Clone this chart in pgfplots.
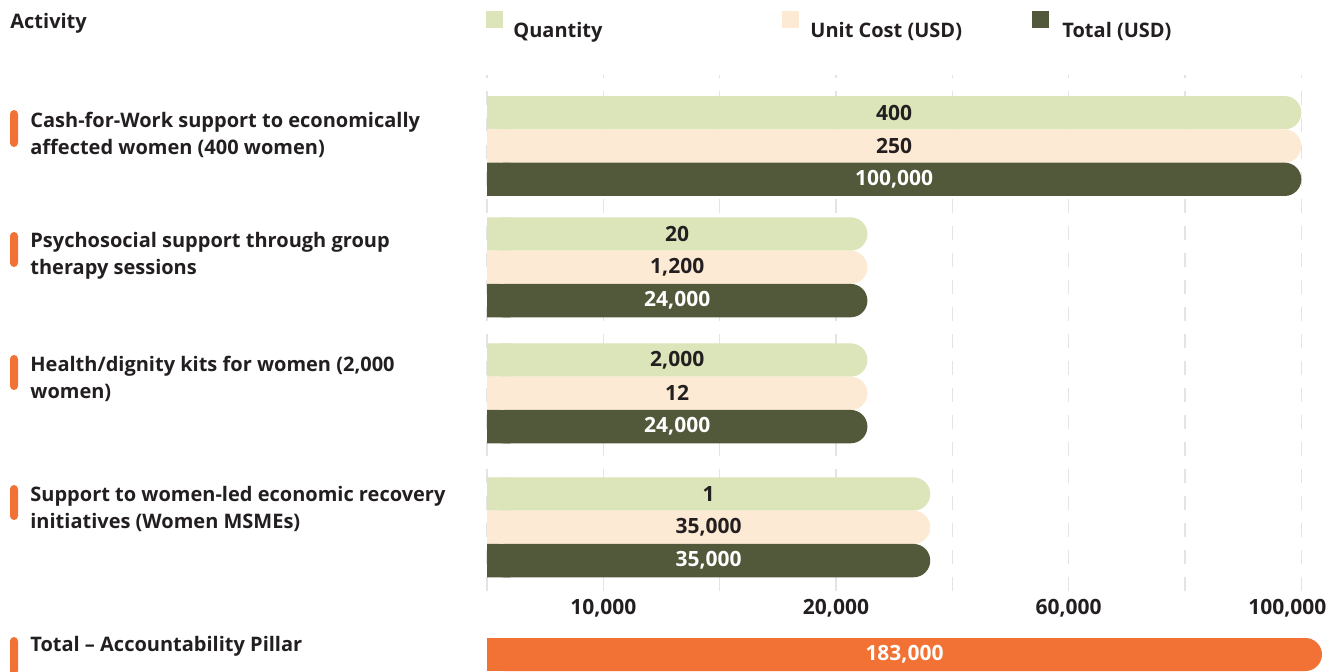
\documentclass[border=0pt]{standalone}
\usepackage{pgfplots}
\pgfplotsset{compat=1.18}
\usepackage{pgfplotstable}
\usepackage{fontspec}
\setmainfont{Open Sans}
\definecolor{qty}{HTML}{DCE4BA}
\definecolor{unit}{HTML}{FDEAD4}
\definecolor{tot}{HTML}{52583A}
\definecolor{orng}{HTML}{F17234}
\definecolor{txt}{HTML}{231F20}
\definecolor{gridc}{HTML}{E4E4E4}
\newcommand\lbl{\fontsize{10}{13.5}\selectfont\bfseries}
\newcommand\vlbl{\fontsize{10.5}{13.5}\selectfont\bfseries}

% piecewise scale (grid steps): 0 | 10,000 | 15,000 | 20,000 | 40,000 | 60,000 | 80,000 | 100,000
\pgfmathdeclarefunction{tr}{1}{%
  \pgfmathparse{ifthenelse(#1<10000, #1/10000,
    ifthenelse(#1<20000, 1+(#1-10000)/5000,
    ifthenelse(#1<24000, 3+(#1-20000)*0.27/4000,
    ifthenelse(#1<35000, 3.27+(#1-24000)*0.54/11000,
    ifthenelse(#1<40000, 3.81+(#1-35000)*0.19/5000,
    4+(#1-40000)/20000)))))}}
\pgfmathdeclarefunction{itr}{1}{%
  \pgfmathparse{ifthenelse(#1<1, #1*10000,
    ifthenelse(#1<3, 10000+(#1-1)*5000,
    ifthenelse(#1<3.27, 20000+(#1-3)*4000/0.27,
    ifthenelse(#1<3.81, 24000+(#1-3.27)*11000/0.54,
    ifthenelse(#1<4, 35000+(#1-3.81)*5000/0.19,
    40000+(#1-4)*20000)))))}}

\pgfplotstableread{
y     len    qty    unit    tot
146   100000 400    250     100,000
267.3 24000  20     1,200   24,000
393.3 24000  2,000  12      24,000
527.3 35000  1      35,000  35,000
}\groups

\pgfplotstableread{
y  len    lab
0  183000 183,000
}\total

\begin{document}
\begin{tikzpicture}
\begin{scope}[x=0.5pt,y=-0.5pt]
\useasboundingbox (0,0) rectangle (1333,671);
\node[anchor=base west, inner sep=0, text=txt, font=\lbl] at (10,28) {Activity};
% legend
\fill[qty] (486,11) rectangle (503,28);
\node[anchor=base west, inner sep=0, text=txt, font=\lbl] at (513,37) {Quantity};
\fill[unit] (782,11) rectangle (799,28);
\node[anchor=base west, inner sep=0, text=txt, font=\lbl] at (810,37) {Unit Cost (USD)};
\fill[tot] (1032,11) rectangle (1049,28);
\node[anchor=base west, inner sep=0, text=txt, font=\lbl] at (1062,37) {Total (USD)};
% category labels
\foreach \yb/\yt/\ybase/\txt in {
  110/147/154/{Cash-for-Work support to economically\\affected women (400 women)},
  232/267/274/{Psychosocial support through group\\therapy sessions},
  355/390/398/{Health/dignity kits for women (2,000\\women)},
  485/520/528/{Support to women-led economic recovery\\initiatives (Women MSMEs)},
  637/675/651/{Total -- Accountability Pillar}}{
  \fill[orng, rounded corners=2pt] (10,\yb) rectangle (18,\yt);
  \node[anchor=base west, inner sep=0, align=left, text=txt, font=\lbl] at (30,\ybase) {\txt};
}
\end{scope}

\begin{axis}[
  at={(243.5pt,-37.5pt)}, anchor=north west,
  scale only axis, width=407.17pt, height=258pt,
  x coord trafo/.code={\begingroup\pgfkeys{/pgf/fpu=true,/pgf/fpu/output format=fixed}\pgfmathparse{tr(#1)}\pgfmathsmuggle\pgfmathresult\endgroup},
  x coord inv trafo/.code={\begingroup\pgfkeys{/pgf/fpu=true,/pgf/fpu/output format=fixed}\pgfmathparse{itr(#1)}\pgfmathsmuggle\pgfmathresult\endgroup},
  xmin=0, xmax=100000, ymin=75, ymax=591, y dir=reverse,
  axis line style={draw=none}, tick style={draw=none},
  ytick=\empty,
  xtick={0,10000,15000,20000,40000,60000,80000,100000},
  xticklabels={,{10,000},,{20,000},,{60,000},,{\hspace*{-14pt}100,000}},
  xticklabel style={anchor=base, yshift=-11.5pt, font=\vlbl, text=txt},
  xmajorgrids, major grid style={draw=gridc, line width=0.75pt, dash pattern=on 6.75pt off 6.75pt, dash phase=5.5pt},
  clip=false,
  bar width=33.3,
  lab/.style={draw=none, mark=none, nodes near coords, point meta=explicit symbolic,
    every node near coord/.append style={anchor=center, font=\vlbl, text=#1}},
]
% square left ends
\addplot[xbar, fill=qty, draw=none] table[x expr=2000, y expr=\thisrow{y}-33.3]{\groups};
\addplot[xbar, fill=unit, draw=none] table[x expr=2000, y=y]{\groups};
\addplot[xbar, fill=tot, draw=none] table[x expr=2000, y expr=\thisrow{y}+33.3]{\groups};
% bars with rounded right ends
\addplot[xbar, fill=qty, draw=none, rounded corners=8.3pt] table[x=len, y expr=\thisrow{y}-33.3]{\groups};
\addplot[xbar, fill=unit, draw=none, rounded corners=8.3pt] table[x=len, y=y]{\groups};
\addplot[xbar, fill=tot, draw=none, rounded corners=8.3pt] table[x=len, y expr=\thisrow{y}+33.3]{\groups};
% value labels
\addplot[lab=txt] table[x expr={itr(tr(\thisrow{len})/2)}, y expr=\thisrow{y}-33.3, meta=qty]{\groups};
\addplot[lab=txt] table[x expr={itr(tr(\thisrow{len})/2)}, y=y, meta=unit]{\groups};
\addplot[lab=white] table[x expr={itr(tr(\thisrow{len})/2)}, y expr=\thisrow{y}+33.3, meta=tot]{\groups};
\end{axis}

\begin{axis}[
  at={(243.5pt,-319pt)}, anchor=north west,
  scale only axis, width=417.5pt, height=16.5pt,
  xmin=0, xmax=183000, ymin=-0.5, ymax=0.5,
  hide axis, clip=false, bar width=1,
]
\addplot[xbar, fill=orng, draw=none] table[x expr=4000, y=y]{\total};
\addplot[xbar, fill=orng, draw=none, rounded corners=8.3pt] table[x=len, y=y]{\total};
\addplot[draw=none, mark=none, nodes near coords, point meta=explicit symbolic,
  every node near coord/.append style={anchor=center, font=\vlbl, text=white}]
  table[x expr=\thisrow{len}/2, y=y, meta=lab]{\total};
\end{axis}
\end{tikzpicture}
\end{document}
